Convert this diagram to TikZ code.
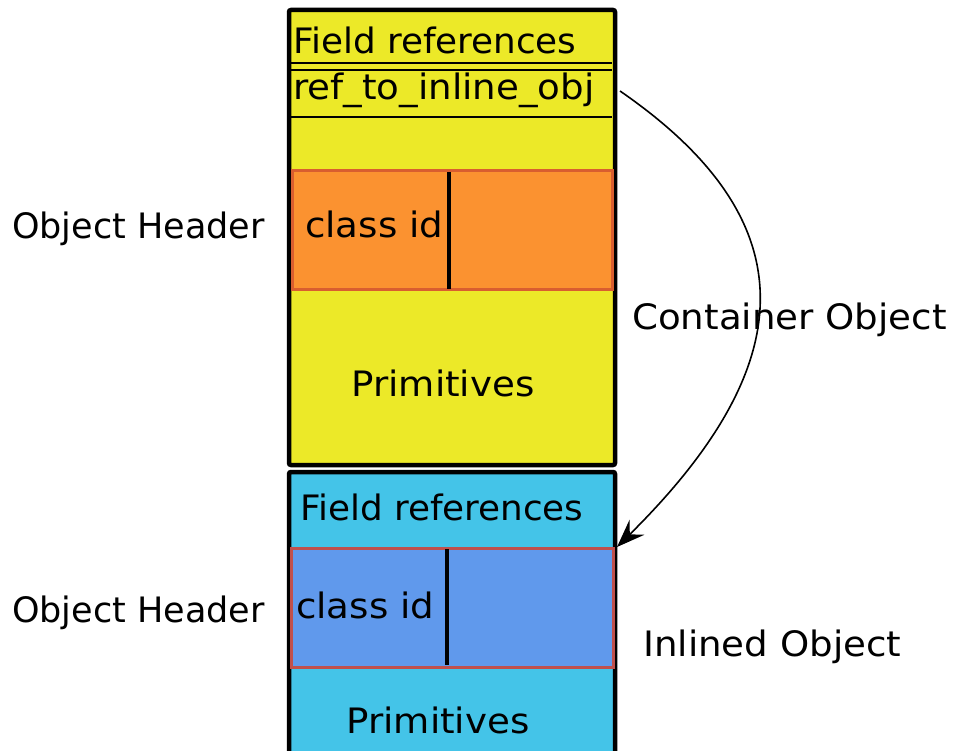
\documentclass[tikz,border=0pt]{standalone}
\usepackage{fontspec}
\setmainfont{DejaVu Sans}
\newfontfamily\widefont[FakeStretch=1.062]{DejaVu Sans}
\newfontfamily\semiwidefont[FakeStretch=1.022]{DejaVu Sans}
\usetikzlibrary{arrows.meta}
\definecolor{contyellow}{RGB}{236,233,40}
\definecolor{hdrorange}{RGB}{251,146,48}
\definecolor{hdrorangeedge}{RGB}{217,94,47}
\definecolor{inlcyan}{RGB}{68,196,232}
\definecolor{hdrblue}{RGB}{96,153,236}
\definecolor{hdrblueedge}{RGB}{192,80,77}
\tikzset{
  x=1pt, y=-1pt,
  lbl/.style={font=\fontsize{35}{40}\selectfont, inner sep=0pt},
  widelbl/.style={font=\fontsize{35}{40}\widefont, inner sep=0pt},
  semilbl/.style={font=\fontsize{35}{40}\semiwidefont, inner sep=0pt},
  objbox/.style={draw=black, line width=4.5pt, rounded corners=2pt},
  hdrbox/.style={line width=3pt},
  divider/.style={draw=black, line width=4pt},
  sepline/.style={draw=black, line width=2.4pt},
}
\begin{document}
\begin{tikzpicture}
\useasboundingbox (0,0) rectangle (953,751);
\clip (0,0) rectangle (953,751);
\fill[white] (0,0) rectangle (953,751);

% container object
\draw[objbox, fill=contyellow] (289,10) rectangle (615,465);
\draw[sepline] (290,63) -- (612,63);
\draw[sepline] (290,70) -- (612,70);
\draw[sepline] (290,117) -- (612,117);
\node[semilbl, anchor=base west] (cfr) at (293,54) {Field references};
\node[widelbl, anchor=base west] (cref) at (293,100) {ref\_to\_inline\_obj};
\draw[hdrbox, draw=hdrorangeedge, fill=hdrorange] (292,171) rectangle (612,290);
\draw[divider] (449,172) -- (449,289);
\node[widelbl, anchor=base west] (ccid) at (305,238) {class id};
\node[widelbl, anchor=base] (cprim) at (443,396) {Primitives};

% inlined object
\draw[objbox, fill=inlcyan] (289,472) rectangle (615,800);
\node[semilbl, anchor=base west] (ifr) at (300,520) {Field references};
\draw[hdrbox, draw=hdrblueedge, fill=hdrblue] (291,548) rectangle (613,667);
\draw[divider] (447,549) -- (447,665);
\node[widelbl, anchor=base west] (icid) at (296,618) {class id};
\node[widelbl, anchor=base] (iprim) at (438,733) {Primitives};

% side labels
\node[lbl, anchor=base west] (ohtop) at (12,239) {Object Header};
\node[lbl, anchor=base west] (ohbot) at (12,622) {Object Header};
\node[widelbl, anchor=base west] (cont) at (632,330) {Container Object};
\node[widelbl, anchor=base west] (inl) at (643,656) {Inlined Object};

% reference arrow
\coordinate (refstart) at (620,91);
\coordinate (refend) at (617,547);
\draw[line width=1.6pt, -{Stealth[length=28pt, width=21pt, inset=10pt]}]
  (refstart) .. controls (810,222) and (801,365) .. (refend);
\end{tikzpicture}
\end{document}
